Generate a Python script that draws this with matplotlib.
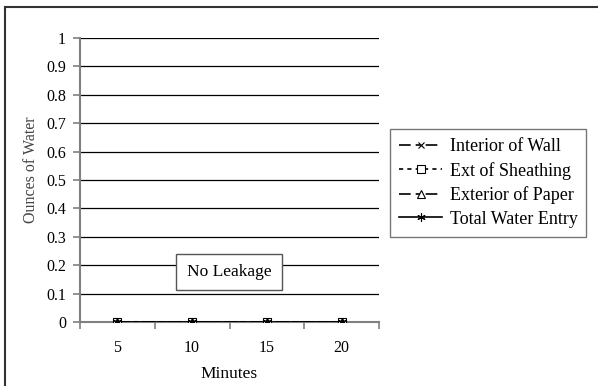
import matplotlib
matplotlib.use("Agg")
import matplotlib.pyplot as plt
from matplotlib.patches import Rectangle

plt.rcParams['font.family'] = ['Liberation Serif', 'DejaVu Serif']

minutes = ['5', '10', '15', '20']
interior_wall = [0, 0, 0, 0]
ext_sheathing = [0, 0, 0, 0]
exterior_paper = [0, 0, 0, 0]
total_entry = [0, 0, 0, 0]
y_ticks = [0, 0.1, 0.2, 0.3, 0.4, 0.5, 0.6, 0.7, 0.8, 0.9, 1]

W, H = 598, 386
fig = plt.figure(figsize=(W / 100, H / 100), dpi=100)
ax = fig.add_axes([80 / W, 64 / H, 299 / W, 284 / H])

x = list(range(1, len(minutes) + 1))

ax.plot(x, interior_wall, color='black', lw=1.2, ls=(0, (7, 3, 3, 3)),
        marker='x', ms=5, mew=0.8, label='Interior of Wall', zorder=4)
ax.plot(x, ext_sheathing, color='black', lw=1.2, ls=(0, (2.5, 2.5)),
        marker='s', ms=6, mfc='white', mew=0.8, label='Ext of Sheathing', zorder=4)
ax.plot(x, exterior_paper, color='black', lw=1.2, ls=(0, (7, 3, 3, 3)),
        marker='^', ms=6, mfc='white', mew=0.8, label='Exterior of Paper', zorder=4)
ax.plot(x, total_entry, color='black', lw=1.2, ls='-',
        marker=(6, 2, 0), ms=6, mew=0.8, label='Total Water Entry', zorder=4)

ax.set_xlim(0.5, len(minutes) + 0.5)
ax.set_ylim(0, 1)
ax.set_yticks(y_ticks)
ax.set_yticklabels([f'{v:g}' for v in y_ticks], fontsize=11.5)
ax.yaxis.grid(True, color='black', lw=0.9)
ax.set_axisbelow(True)

# category labels in the middle, tick marks on the category boundaries
ax.set_xticks(x)
ax.set_xticklabels(minutes, fontsize=11.5)
ax.set_xticks([i + 0.5 for i in range(len(minutes) + 1)], minor=True)
ax.tick_params(axis='x', which='major', length=0, pad=13)
ax.tick_params(axis='x', which='minor', length=5, direction='out', color='#808080', width=1.2)
ax.tick_params(axis='y', length=5, direction='out', color='#808080', width=1.2, pad=5)

for side in ['top', 'right', 'bottom']:
    ax.spines[side].set_visible(False)
ax.spines['left'].set_color('#808080')
ax.spines['left'].set_linewidth(1.5)
ax.axhline(0, color='#808080', lw=1.5, zorder=1, clip_on=False)

ax.set_xlabel('Minutes', fontsize=12.5, labelpad=7)
ax.set_ylabel('Ounces of Water', fontsize=11.5, color='#444444')
ax.yaxis.set_label_coords(39 / W, (H - 170) / H, transform=fig.transFigure)

fig.text(229 / W, (H - 272) / H, 'No Leakage', fontsize=12.5,
         ha='center', va='center',
         bbox=dict(boxstyle='square,pad=0.6', fc='white', ec='#555555', lw=1))

leg = ax.legend(loc='upper left', bbox_to_anchor=(390 / W, (H - 129) / H),
                bbox_transform=fig.transFigure, fontsize=13, frameon=True,
                fancybox=False, edgecolor='#555555', handlelength=2.4,
                handletextpad=0.4, borderpad=0.5, labelspacing=0.37,
                borderaxespad=0)
leg.get_frame().set_linewidth(1)

# outer chart frame
fig.patches.append(Rectangle((5 / W, -0.1), 1.2, (H - 7) / H + 0.1,
                             transform=fig.transFigure, fill=False,
                             ec='#333333', lw=1.5))

fig.savefig('out.png', dpi=100)
